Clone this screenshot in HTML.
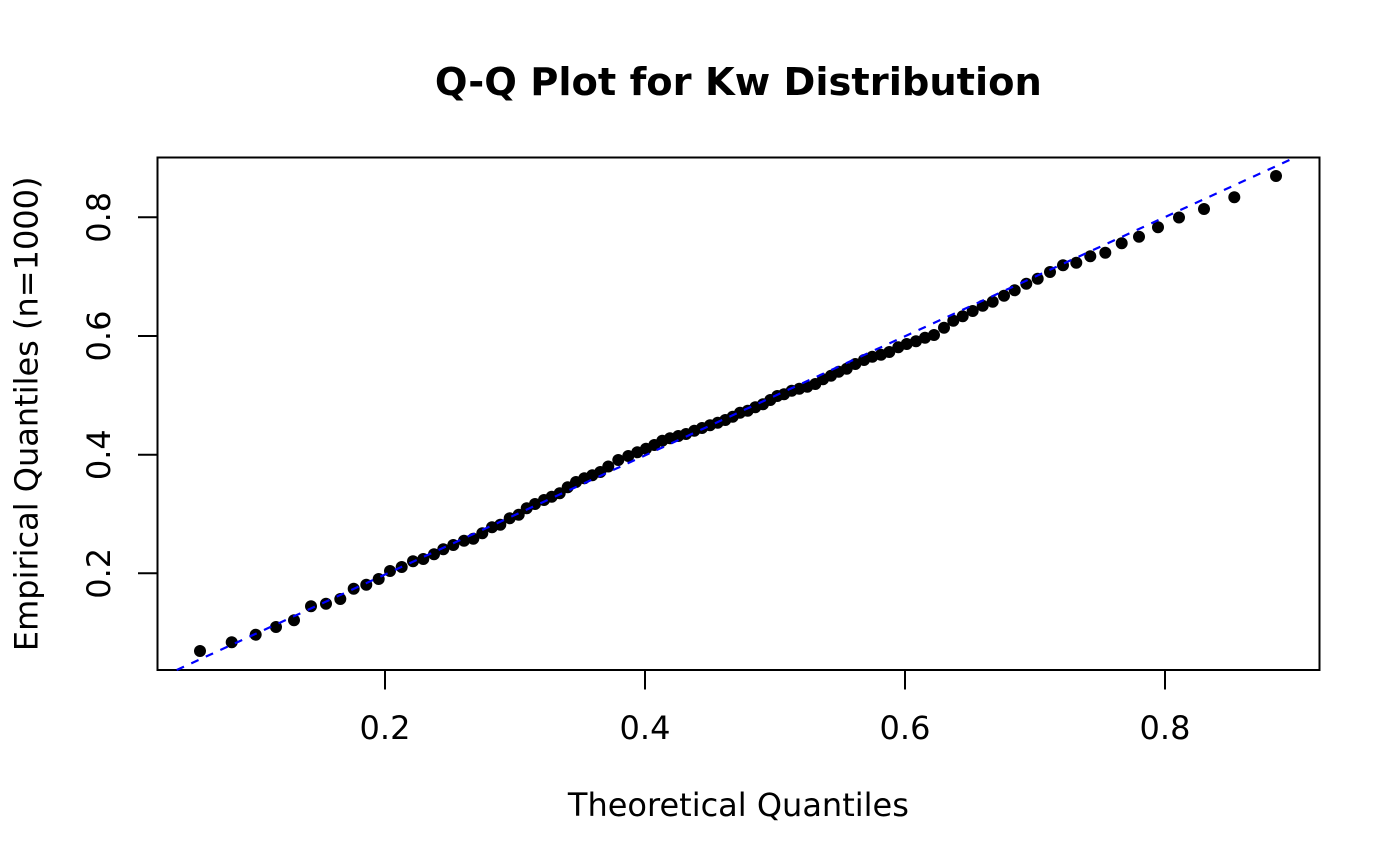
<!DOCTYPE html>
<html>
<head>
<meta charset="utf-8">
<style>
html,body{margin:0;padding:0;background:#fff;}
svg{display:block;}
text{font-family:"DejaVu Sans","Liberation Sans",sans-serif;fill:#000;}
</style>
</head>
<body>
<svg width="1400" height="866" viewBox="0 0 1400 866" xmlns="http://www.w3.org/2000/svg">
<rect x="0" y="0" width="1400" height="866" fill="#fff"/>
<text x="738.4" y="95" font-size="38.4" font-weight="bold" text-anchor="middle">Q-Q Plot for Kw Distribution</text>
<rect x="157.5" y="157.5" width="1162" height="512.5" fill="none" stroke="#000" stroke-width="2"/>
<g stroke="#000" stroke-width="2">
<line x1="385" y1="670" x2="385" y2="689.5"/>
<line x1="645" y1="670" x2="645" y2="689.5"/>
<line x1="905" y1="670" x2="905" y2="689.5"/>
<line x1="1165" y1="670" x2="1165" y2="689.5"/>
<line x1="138" y1="217.3" x2="157.5" y2="217.3"/>
<line x1="138" y1="336" x2="157.5" y2="336"/>
<line x1="138" y1="454.7" x2="157.5" y2="454.7"/>
<line x1="138" y1="573.3" x2="157.5" y2="573.3"/>
</g>
<g font-size="32" text-anchor="middle">
<text x="385" y="739">0.2</text>
<text x="645" y="739">0.4</text>
<text x="905" y="739">0.6</text>
<text x="1165" y="739">0.8</text>
<text transform="translate(110,217.3) rotate(-90)">0.8</text>
<text transform="translate(110,336) rotate(-90)">0.6</text>
<text transform="translate(110,454.7) rotate(-90)">0.4</text>
<text transform="translate(110,573.3) rotate(-90)">0.2</text>
<text x="738.4" y="816">Theoretical Quantiles</text>
<text transform="translate(37.5,413.8) rotate(-90)">Empirical Quantiles (n=1000)</text>
</g>
<g fill="#000">
<circle cx="200" cy="651" r="6"/>
<circle cx="231.7" cy="642.3" r="6"/>
<circle cx="255.7" cy="634.7" r="6"/>
<circle cx="276" cy="627" r="6"/>
<circle cx="294" cy="620.3" r="6"/>
<circle cx="311" cy="606.3" r="6"/>
<circle cx="326" cy="603.7" r="6"/>
<circle cx="340.3" cy="599" r="6"/>
<circle cx="353.7" cy="588.7" r="6"/>
<circle cx="366.3" cy="584.7" r="6"/>
<circle cx="378.7" cy="579" r="6"/>
<circle cx="390" cy="571" r="6"/>
<circle cx="401.7" cy="567" r="6"/>
<circle cx="413" cy="561.3" r="6"/>
<circle cx="423.3" cy="559" r="6"/>
<circle cx="434" cy="554.3" r="6"/>
<circle cx="443.3" cy="549.3" r="6"/>
<circle cx="453.3" cy="545" r="6"/>
<circle cx="464" cy="540.7" r="6"/>
<circle cx="473.3" cy="538.7" r="6"/>
<circle cx="482.3" cy="533.3" r="6"/>
<circle cx="492" cy="527.3" r="6"/>
<circle cx="500.3" cy="524.7" r="6"/>
<circle cx="509.7" cy="518.3" r="6"/>
<circle cx="518.7" cy="514.7" r="6"/>
<circle cx="526.7" cy="508.3" r="6"/>
<circle cx="535" cy="504" r="6"/>
<circle cx="544" cy="500" r="6"/>
<circle cx="551.7" cy="496.7" r="6"/>
<circle cx="559.7" cy="493.3" r="6"/>
<circle cx="567.7" cy="487.3" r="6"/>
<circle cx="576" cy="482" r="6"/>
<circle cx="584.3" cy="478.3" r="6"/>
<circle cx="592.3" cy="475.3" r="6"/>
<circle cx="600.3" cy="472" r="6"/>
<circle cx="608.3" cy="466.5" r="6"/>
<circle cx="618.3" cy="460" r="6"/>
<circle cx="628.3" cy="456" r="6"/>
<circle cx="637.3" cy="452.3" r="6"/>
<circle cx="646" cy="448.7" r="6"/>
<circle cx="654.3" cy="445" r="6"/>
<circle cx="662.3" cy="440.7" r="6"/>
<circle cx="670" cy="438.3" r="6"/>
<circle cx="678.3" cy="436" r="6"/>
<circle cx="686" cy="434" r="6"/>
<circle cx="694.3" cy="430.7" r="6"/>
<circle cx="702" cy="428" r="6"/>
<circle cx="710" cy="425.3" r="6"/>
<circle cx="717.7" cy="422.7" r="6"/>
<circle cx="725.3" cy="420" r="6"/>
<circle cx="732.7" cy="416.7" r="6"/>
<circle cx="740" cy="412.7" r="6"/>
<circle cx="747.7" cy="410.7" r="6"/>
<circle cx="755.3" cy="407.3" r="6"/>
<circle cx="763" cy="404.3" r="6"/>
<circle cx="770.3" cy="400" r="6"/>
<circle cx="777.3" cy="396" r="6"/>
<circle cx="784" cy="394.3" r="6"/>
<circle cx="791.7" cy="390.7" r="6"/>
<circle cx="799.3" cy="388.7" r="6"/>
<circle cx="807.3" cy="386.7" r="6"/>
<circle cx="815.3" cy="384" r="6"/>
<circle cx="823" cy="379.3" r="6"/>
<circle cx="831" cy="375.7" r="6"/>
<circle cx="838.7" cy="371.7" r="6"/>
<circle cx="846.7" cy="368.7" r="6"/>
<circle cx="855.3" cy="364" r="6"/>
<circle cx="864" cy="360" r="6"/>
<circle cx="872.3" cy="356.7" r="6"/>
<circle cx="881" cy="354.7" r="6"/>
<circle cx="889.3" cy="352" r="6"/>
<circle cx="898.3" cy="347.3" r="6"/>
<circle cx="906.7" cy="344" r="6"/>
<circle cx="916" cy="341.3" r="6"/>
<circle cx="925" cy="337.7" r="6"/>
<circle cx="934" cy="335" r="6"/>
<circle cx="944" cy="327.7" r="6"/>
<circle cx="953.3" cy="320.7" r="6"/>
<circle cx="962.7" cy="316.3" r="6"/>
<circle cx="972.7" cy="311" r="6"/>
<circle cx="982.7" cy="305.7" r="6"/>
<circle cx="992.7" cy="301.7" r="6"/>
<circle cx="1004" cy="295.7" r="6"/>
<circle cx="1014.7" cy="290.3" r="6"/>
<circle cx="1026.3" cy="283.7" r="6"/>
<circle cx="1037.7" cy="278.7" r="6"/>
<circle cx="1050" cy="272" r="6"/>
<circle cx="1063" cy="265.3" r="6"/>
<circle cx="1076.3" cy="262.7" r="6"/>
<circle cx="1090.3" cy="256.3" r="6"/>
<circle cx="1105.3" cy="252.7" r="6"/>
<circle cx="1121.7" cy="243.3" r="6"/>
<circle cx="1139" cy="236.7" r="6"/>
<circle cx="1158" cy="227.3" r="6"/>
<circle cx="1179" cy="217.5" r="6"/>
<circle cx="1204" cy="209" r="6"/>
<circle cx="1234.3" cy="197.3" r="6"/>
<circle cx="1276" cy="176" r="6"/>
</g>
<line x1="176.7" y1="670" x2="1295" y2="157.5" stroke="#0000ff" stroke-width="2.2" stroke-dasharray="8,8"/>
</svg>
</body>
</html>
